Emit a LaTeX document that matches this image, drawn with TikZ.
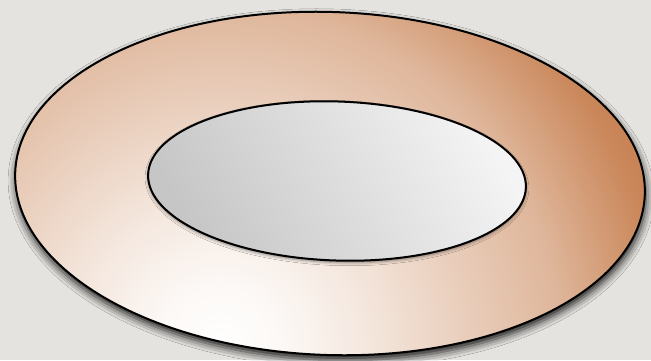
\documentclass[tikz,border=0pt]{standalone}
\usepackage{tikz}
\usepackage{xcolor}
\usetikzlibrary{shadows.blur}
\definecolor{paper}{RGB}{229,227,223}
\definecolor{copper}{RGB}{196,122,72}
\definecolor{holedark}{RGB}{198,198,198}
\definecolor{holelight}{RGB}{244,244,244}
\pgfdeclareradialshading{copperglow}{\pgfpoint{0bp}{0bp}}{color(0bp)=(white); color(3bp)=(copper!5!white); color(7bp)=(copper!17!white); color(12bp)=(copper!36!white); color(17bp)=(copper!55!white); color(22bp)=(copper!90!white); color(25bp)=(copper); color(50bp)=(copper)}

\begin{document}
\begin{tikzpicture}[x=1pt,y=1pt,
    rim/.style={draw=black, line width=2pt},
    dropshadow/.style={blur shadow={shadow xshift=1pt, shadow yshift=-5pt, shadow blur radius=8pt, shadow opacity=90}},
    smallshadow/.style={blur shadow={shadow xshift=0pt, shadow yshift=-2pt, shadow blur radius=3pt, shadow opacity=45}}]
    \fill[paper] (0,0) rectangle (651,360);
    \useasboundingbox (0,0) rectangle (651,360);
    \coordinate (outer) at (330,176.5);
    \coordinate (inner) at (337,179);
    \coordinate (glow) at (220,15);
    \fill[copper, dropshadow] (outer) ellipse [x radius=315, y radius=171.5, rotate=-2];
    \begin{scope}
        \clip (outer) ellipse [x radius=315, y radius=171.5, rotate=-2];
        \shade[shading=copperglow] (glow) circle [radius=500];
    \end{scope}
    \draw[rim] (outer) ellipse [x radius=315, y radius=171.5, rotate=-2];
    \shade[top color=holelight, bottom color=holedark, shading angle=-60, smallshadow] (inner) ellipse [x radius=189, y radius=79.5, rotate=-2];
    \draw[rim] (inner) ellipse [x radius=189, y radius=79.5, rotate=-2];
\end{tikzpicture}
\end{document}
